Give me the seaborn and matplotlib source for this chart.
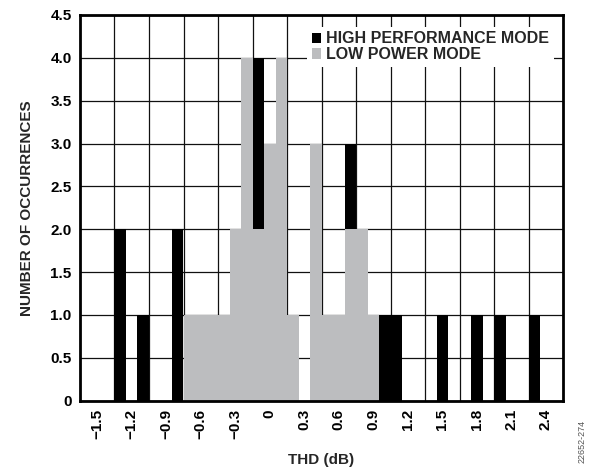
import matplotlib
matplotlib.use("Agg")
import matplotlib.pyplot as plt
import seaborn as sns
import pandas as pd
import numpy as np

# ---- data ----
hp_thd = [-1.3, -1.1, -0.8, -0.1, 0.7, 1.0, 1.1, 1.5, 1.8, 2.0, 2.3]
hp_count = [2, 1, 2, 4, 3, 1, 1, 1, 1, 1, 1]
lp_thd = [-0.7, -0.6, -0.5, -0.4, -0.3, -0.2, -0.1, 0.0, 0.1, 0.2,
          0.4, 0.5, 0.6, 0.7, 0.8, 0.9]
lp_count = [1, 1, 1, 1, 2, 4, 2, 3, 4, 1, 3, 1, 1, 2, 2, 1]
x_ticks = [-1.5, -1.2, -0.9, -0.6, -0.3, 0, 0.3, 0.6, 0.9, 1.2, 1.5, 1.8, 2.1, 2.4]
x_tick_labels = ["−1.5", "−1.2", "−0.9", "−0.6", "−0.3", "0", "0.3", "0.6",
                 "0.9", "1.2", "1.5", "1.8", "2.1", "2.4"]
y_ticks = [0, 0.5, 1.0, 1.5, 2.0, 2.5, 3.0, 3.5, 4.0, 4.5]
y_tick_labels = ["0", "0.5", "1.0", "1.5", "2.0", "2.5", "3.0", "3.5", "4.0", "4.5"]
modes = ["HIGH PERFORMANCE MODE", "LOW POWER MODE"]
colors = ["#000000", "#bcbdbf"]

df = pd.DataFrame({
    "thd": np.round(hp_thd + lp_thd, 2),
    "count": hp_count + lp_count,
    "mode": [modes[0]] * len(hp_thd) + [modes[1]] * len(lp_thd),
})

sns.set_theme(style="white")
plt.rcParams["font.family"] = ["Liberation Sans", "DejaVu Sans"]
plt.rcParams["font.weight"] = "bold"

fig = plt.figure(figsize=(5.89, 4.68), dpi=100)
ax = fig.add_axes([80 / 589, 1 - 400.7 / 468, 483 / 589, 385.7 / 468])

sns.barplot(data=df, x="thd", y="count", hue="mode", hue_order=modes,
            palette=colors, native_scale=True, dodge=False, width=1.0,
            linewidth=0, edgecolor="none", errorbar=None, ax=ax, zorder=3)

ax.set_xlim(-1.65, 2.55)
ax.set_ylim(0, 4.5)
ax.set_xticks(x_ticks)
ax.set_xticklabels(x_tick_labels, rotation=90, fontsize=11, fontweight="bold")
ax.set_xticks(np.arange(-1.35, 2.3, 0.3), minor=True)
ax.set_yticks(y_ticks)
ax.set_yticklabels(y_tick_labels, fontsize=11, fontweight="bold")
ax.tick_params(axis="both", which="both", length=0, colors="black")
ax.tick_params(axis="x", pad=6)
ax.tick_params(axis="y", pad=6)
ax.grid(False)
ax.grid(True, axis="x", which="minor", color="#111111", linewidth=0.9, zorder=1)
ax.grid(True, axis="y", which="major", color="#111111", linewidth=0.9, zorder=1)
ax.set_axisbelow(True)
for s in ax.spines.values():
    s.set_visible(True)
    s.set_color("black")
    s.set_linewidth(2.0)
    s.set_zorder(5)

ax.set_xlabel("THD (dB)", fontsize=11, fontweight="bold", labelpad=10)
ax.set_ylabel("NUMBER OF OCCURRENCES", fontsize=11, fontweight="bold", labelpad=12)

handles, labels = ax.get_legend_handles_labels()
leg = ax.legend(handles, labels, loc="upper left", bbox_to_anchor=(0.47, 0.97),
                frameon=True, facecolor="white", edgecolor="none", framealpha=1,
                fancybox=False, handlelength=0.6, handleheight=0.6,
                handletextpad=0.3, labelspacing=0.05, borderpad=0.3,
                borderaxespad=0, prop={"size": 11.5, "weight": "bold"})
leg.set_zorder(6)

fig.text(0.988, 0.01, "22652-274", rotation=90, fontsize=6.5, color="#555555",
         fontweight="normal", ha="center", va="bottom")

fig.savefig("out.png", dpi=100)
